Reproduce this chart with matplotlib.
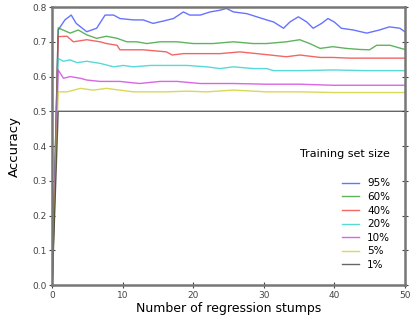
import matplotlib
matplotlib.use("Agg")
import matplotlib.pyplot as plt

# accuracy vs number of regression stumps, per training set size
x_95 = [0, 0.85, 1.8, 2.7, 3.4, 4.9, 6.3, 7.5, 8.7, 9.6, 11.5, 12.9, 14.3, 15.8, 17.2, 18.6, 19.5,
        21, 22.4, 23.8, 24.7, 25.7, 27.6, 29, 30.4, 31.4, 32.8, 33.7, 34.9, 36.1, 37, 38.2, 39.1,
        40, 41, 42.7, 44.6, 46.4, 47.8, 49.3, 50]
y_95 = [0, 0.734, 0.763, 0.777, 0.753, 0.729, 0.739, 0.777, 0.777, 0.767, 0.763, 0.763, 0.753,
        0.760, 0.767, 0.786, 0.777, 0.777, 0.786, 0.791, 0.796, 0.786, 0.781, 0.772, 0.763, 0.757,
        0.739, 0.757, 0.772, 0.757, 0.739, 0.753, 0.767, 0.757, 0.739, 0.734, 0.725, 0.734, 0.743,
        0.739, 0.729]

x_60 = [0, 0.85, 2.55, 3.7, 4.9, 6.3, 7.7, 9.2, 10.6, 12, 13.4, 15.3, 17.7, 20, 22.8, 25.7, 28.5,
        30.4, 33.2, 35.1, 36.5, 38, 39.8, 41.7, 43.6, 45, 46, 47.9, 50]
y_60 = [0, 0.74, 0.725, 0.734, 0.72, 0.71, 0.716, 0.71, 0.70, 0.70, 0.695, 0.70, 0.70, 0.695,
        0.695, 0.70, 0.695, 0.695, 0.70, 0.706, 0.695, 0.681, 0.686, 0.681, 0.678, 0.677, 0.69,
        0.69, 0.678]

x_40 = [0, 0.85, 2.1, 3, 4.9, 6.8, 7.7, 9.2, 9.6, 12.9, 16.2, 17, 18.6, 21, 23.8, 26.6, 29, 30.9,
        33.2, 35.1, 38, 39.8, 42.2, 44.6, 50]
y_40 = [0, 0.715, 0.716, 0.70, 0.706, 0.70, 0.695, 0.69, 0.677, 0.677, 0.671, 0.662, 0.666,
        0.666, 0.666, 0.671, 0.666, 0.662, 0.657, 0.662, 0.655, 0.655, 0.653, 0.653, 0.653]

x_20 = [0, 0.85, 1.6, 2.55, 3.5, 4.9, 6.8, 8.7, 10.1, 11.5, 13.9, 16.2, 19.1, 21.9, 23.8, 25.7,
        28.5, 30.4, 31.4, 35.1, 39.8, 44.6, 50]
y_20 = [0, 0.652, 0.644, 0.648, 0.64, 0.644, 0.638, 0.628, 0.632, 0.628, 0.632, 0.632, 0.632,
        0.628, 0.623, 0.628, 0.623, 0.623, 0.617, 0.617, 0.619, 0.617, 0.617]

x_10 = [0, 0.85, 1.6, 2.55, 4, 4.9, 6.8, 8.2, 9.6, 12.4, 15.3, 17.7, 21, 25.7, 30.4, 35.1, 39.8, 50]
y_10 = [0, 0.619, 0.595, 0.60, 0.595, 0.59, 0.586, 0.586, 0.586, 0.58, 0.586, 0.586, 0.58, 0.58,
        0.578, 0.578, 0.575, 0.575]

x_5 = [0, 0.85, 2.1, 4, 5.8, 7.7, 9.6, 11.5, 13.9, 16.2, 19.1, 21.9, 25.7, 30.4, 35.1, 39.8, 50]
y_5 = [0, 0.556, 0.556, 0.566, 0.561, 0.566, 0.561, 0.556, 0.556, 0.556, 0.558, 0.556, 0.561,
       0.556, 0.556, 0.554, 0.554]

x_1 = [0, 0.85, 50]
y_1 = [0, 0.5, 0.5]

labels = ["95%", "60%", "40%", "20%", "10%", "5%", "1%"]
colors = ["#3344ff", "#2a9a2a", "#ee3333", "#22cccc", "#cc33dd", "#cccc22", "#333333"]

series = [(x_95, y_95), (x_60, y_60), (x_40, y_40), (x_20, y_20),
          (x_10, y_10), (x_5, y_5), (x_1, y_1)]

fig = plt.figure(figsize=(4.11, 3.21), dpi=100)
ax = fig.add_axes([0.127, 0.112, 0.858, 0.866])

for (xs, ys), lab, c in zip(series, labels, colors):
    ax.plot(xs, ys, color=c, linewidth=1.0, alpha=0.75, label=lab)

ax.set_xlim(0, 50)
ax.set_ylim(0, 0.8)
ax.set_xticks([0, 10, 20, 30, 40, 50])
ax.set_yticks([0.0, 0.1, 0.2, 0.3, 0.4, 0.5, 0.6, 0.7, 0.8])
ax.tick_params(labelsize=6.5, direction="inout", length=4, right=True, colors="#444444", pad=2)
for sp in ax.spines.values():
    sp.set_linewidth(1.8)
    sp.set_color("#777777")

ax.set_xlabel("Number of regression stumps", fontsize=9, labelpad=2)
ax.set_ylabel("Accuracy", fontsize=9.5, labelpad=8)

leg = ax.legend(title="Training set size", loc="lower right", bbox_to_anchor=(0.985, 0.02),
                frameon=False, fontsize=7.5, title_fontsize=8, handlelength=1.6,
                labelspacing=0.35)
leg._legend_box.align = "right"
leg._legend_box.sep = 14

plt.savefig("out.png", dpi=100)
